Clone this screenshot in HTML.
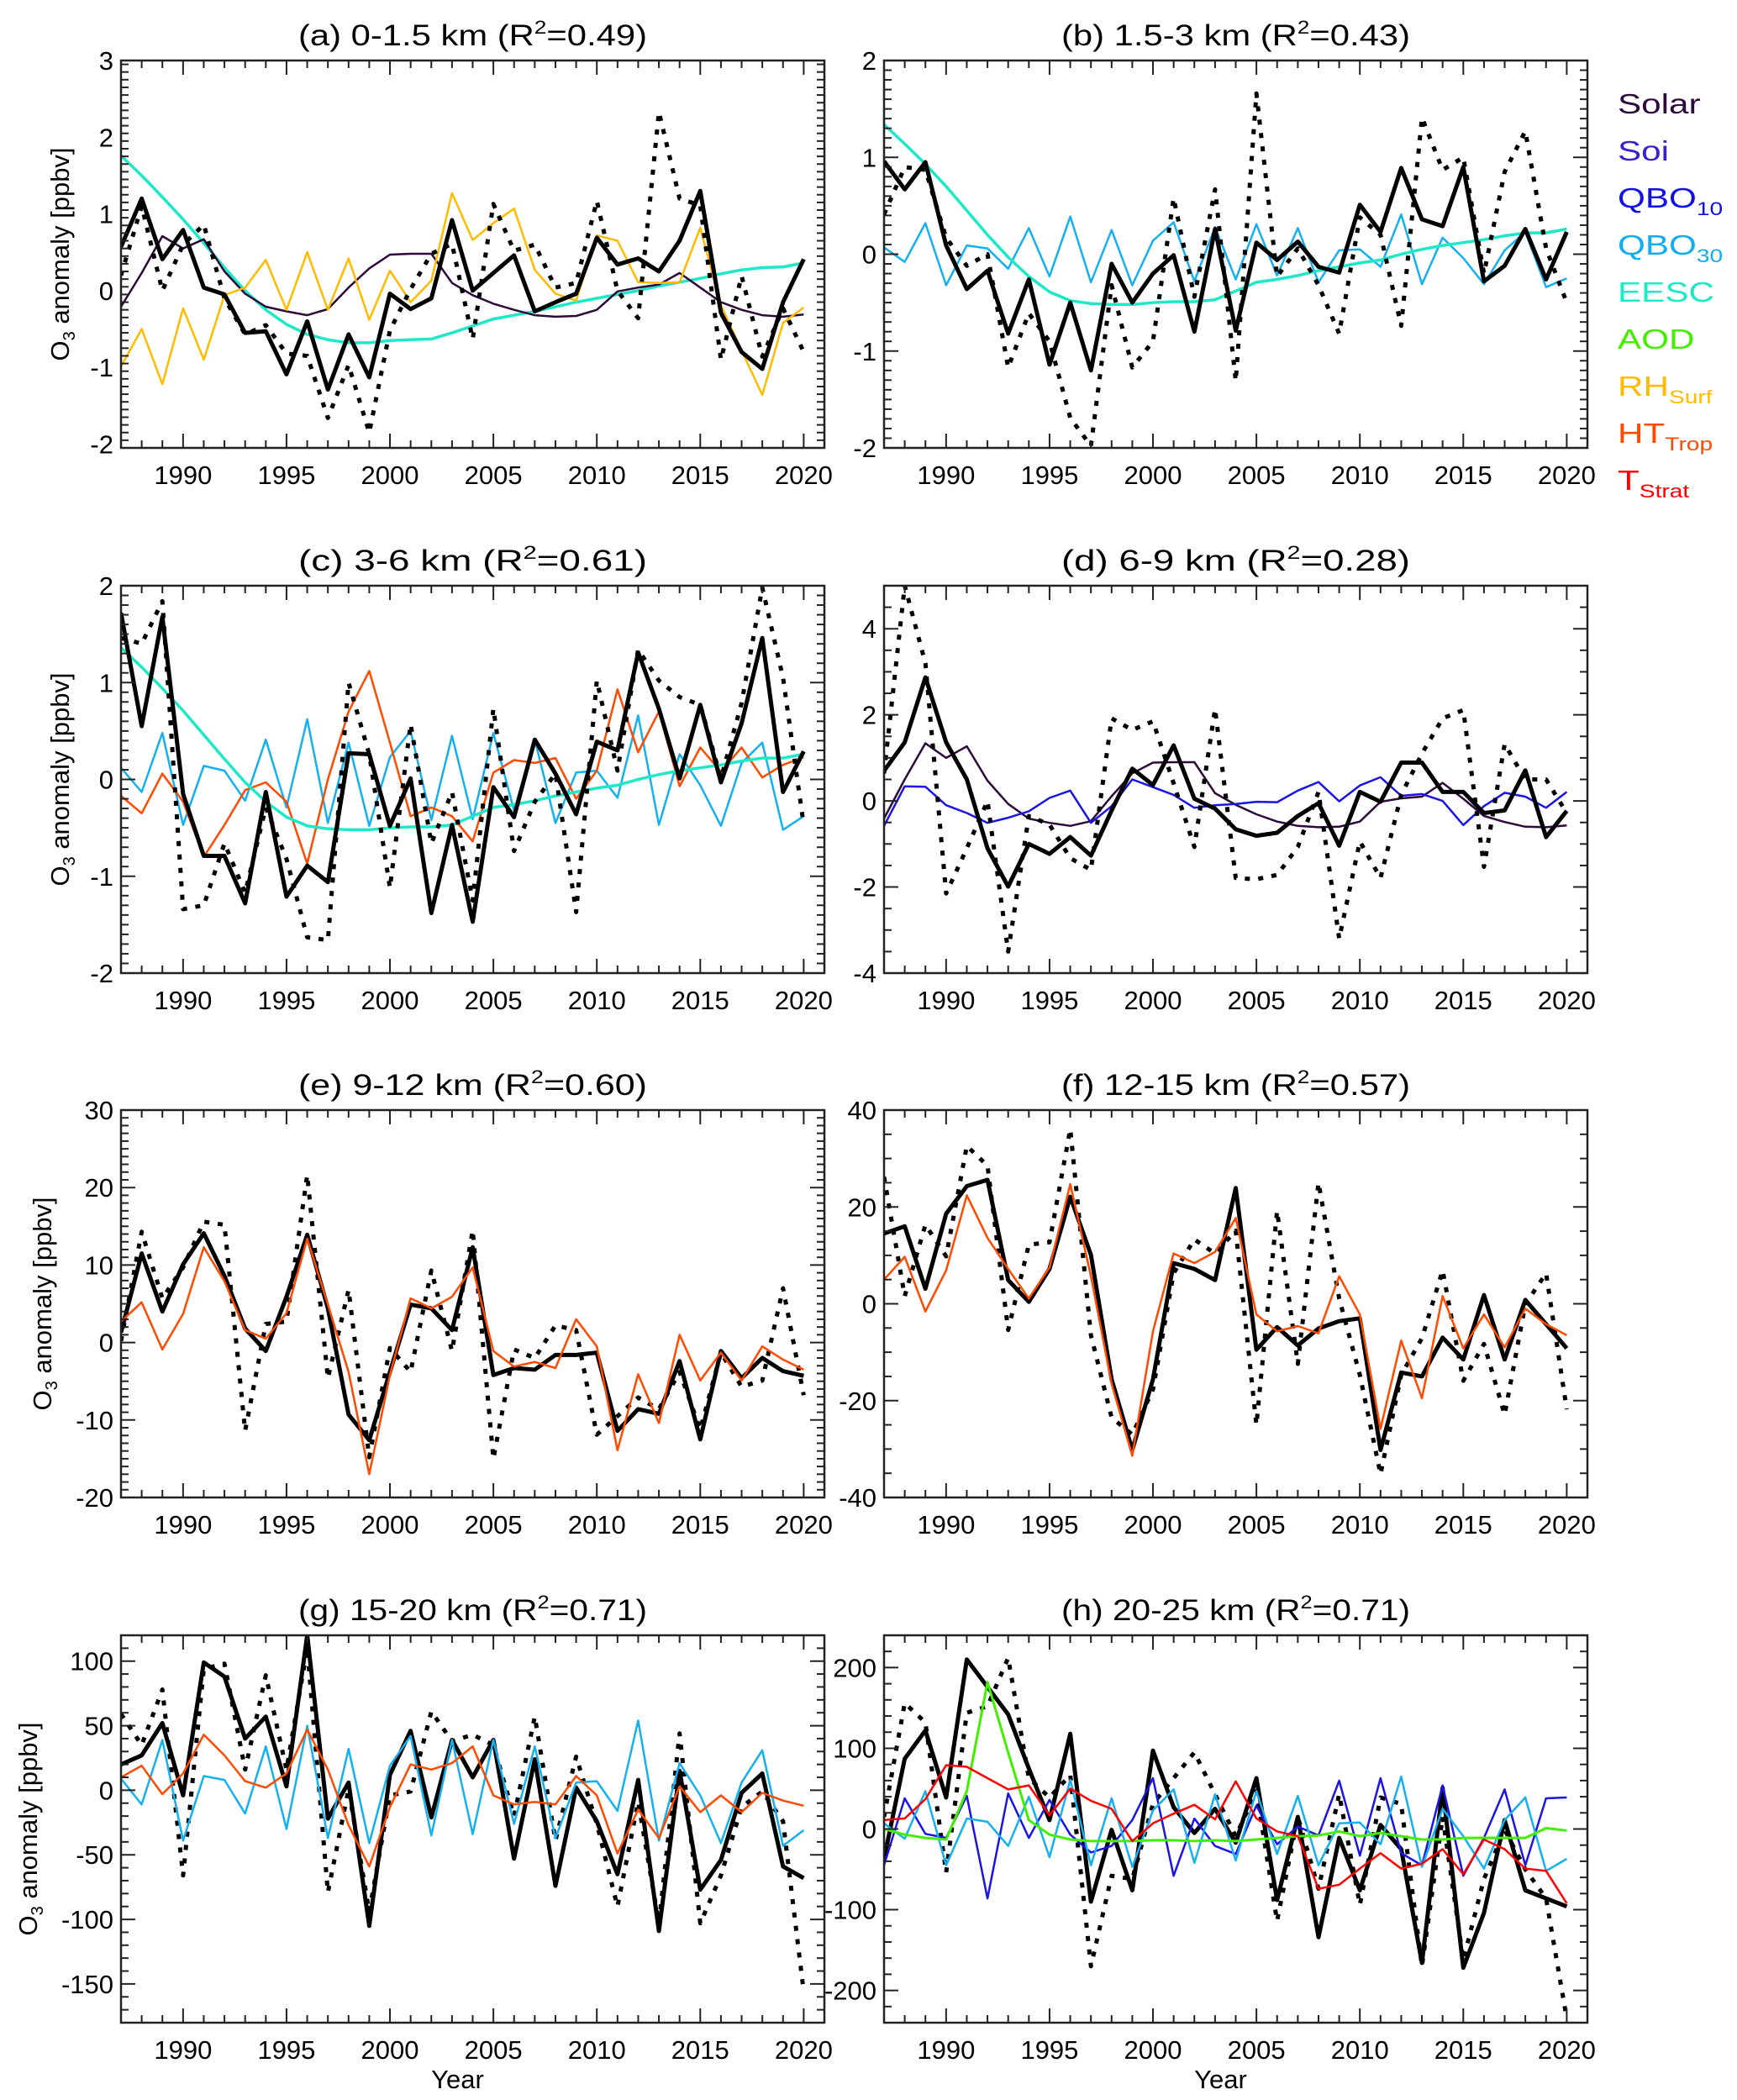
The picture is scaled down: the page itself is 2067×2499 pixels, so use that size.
<!DOCTYPE html>
<html><head><meta charset="utf-8">
<style>
html,body{margin:0;padding:0;background:#fff;}
svg{display:block;font-family:"Liberation Sans",Arial,sans-serif;}
</style></head>
<body>
<svg id="fig" width="2067" height="2499" viewBox="0 0 2067 2499" xmlns="http://www.w3.org/2000/svg">
<rect width="2067" height="2499" fill="#fff"/>
<g id="legend" transform="translate(1925,0) scale(1.28,1)" font-size="33">
  <text x="0" y="135" fill="#2e0a3c">Solar</text>
  <text x="0" y="191" fill="#3a1fd0">Soi</text>
  <text x="0" y="247" fill="#1010e6">QBO<tspan font-size="22" dy="9">10</tspan></text>
  <text x="0" y="303" fill="#10aef0">QBO<tspan font-size="22" dy="9">30</tspan></text>
  <text x="0" y="359" fill="#1de8c8">EESC</text>
  <text x="0" y="415" fill="#44ee00">AOD</text>
  <text x="0" y="471" fill="#ffbb00">RH<tspan font-size="22" dy="9">Surf</tspan></text>
  <text x="0" y="527" fill="#ff4a00">HT<tspan font-size="22" dy="9">Trop</tspan></text>
  <text x="0" y="583" fill="#ff0000">T<tspan font-size="22" dy="9">Strat</tspan></text>
</g>
</svg>
<script>
// ---------- data ----------
const years = [1987,1988,1989,1990,1991,1992,1993,1994,1995,1996,1997,1998,1999,2000,2001,2002,2003,2004,2005,2006,2007,2008,2009,2010,2011,2012,2013,2014,2015,2016,2017,2018,2019,2020];
const xTickLabels = [1990,1995,2000,2005,2010,2015,2020];

// (a) 0-1.5 km
const aModel = [0.57,1.2,0.41,0.79,0.04,-0.05,-0.55,-0.53,-1.09,-0.4,-1.29,-0.57,-1.13,-0.04,-0.24,-0.1,0.92,0,0.23,0.46,-0.27,-0.15,-0.04,0.69,0.34,0.42,0.25,0.65,1.3,-0.29,-0.8,-1.02,-0.15,0.41];
const aObs = [0.2,1.1,0,0.6,0.86,-0.1,-0.57,-0.45,-0.82,-0.85,-1.66,-0.97,-1.85,-0.52,0.02,0.48,0.61,-0.63,1.13,0.52,0.6,0.04,0.1,1.17,0,-0.36,2.33,1.2,1.11,-0.9,0.19,-0.86,-0.23,-0.8];
const aRH = [-0.99,-0.5,-1.22,-0.23,-0.9,-0.06,0.04,0.4,-0.25,0.5,-0.25,0.42,-0.38,0.26,-0.15,0.13,1.27,0.66,0.88,1.07,0.27,-0.04,-0.13,0.72,0.65,0.11,0.1,0.11,0.82,-0.19,-0.78,-1.36,-0.42,-0.22];
const aSolar = [-0.21,0.23,0.71,0.55,0.67,0.25,-0.04,-0.21,-0.27,-0.32,-0.24,0.04,0.29,0.47,0.48,0.48,0.1,-0.06,-0.17,-0.25,-0.32,-0.34,-0.33,-0.25,-0.01,0.04,0.08,0.23,0.04,-0.15,-0.25,-0.32,-0.34,-0.31];
const aEESC = [1.76,1.5,1.22,0.93,0.62,0.3,0,-0.25,-0.44,-0.57,-0.64,-0.68,-0.68,-0.65,-0.64,-0.63,-0.55,-0.46,-0.37,-0.32,-0.27,-0.21,-0.15,-0.1,-0.05,0,0.06,0.11,0.16,0.22,0.27,0.3,0.31,0.36];

// (b) 1.5-3 km
const bModel = [0.96,0.67,0.95,0.09,-0.36,-0.17,-0.82,-0.26,-1.14,-0.5,-1.2,-0.1,-0.5,-0.2,-0.01,-0.8,0.26,-0.79,0.12,-0.06,0.13,-0.13,-0.19,0.51,0.23,0.89,0.36,0.29,0.9,-0.28,-0.12,0.26,-0.26,0.23];
const bObs = [0.41,0.9,0.87,0.17,-0.12,0,-1.17,-0.61,-0.9,-1.69,-1.98,-0.32,-1.17,-0.9,0.58,-0.44,0.67,-1.31,1.66,-0.23,0.06,-0.32,-0.82,0.38,0.2,-0.74,1.41,0.87,1.0,-0.2,0.85,1.27,0.06,-0.5];
const bQBO30 = [0.07,-0.08,0.32,-0.32,0.09,0.06,-0.15,0.27,-0.23,0.39,-0.29,0.25,-0.32,0.14,0.33,-0.28,0.28,-0.26,0.31,-0.22,0.27,-0.29,0.04,0.05,-0.13,0.41,-0.31,0.17,-0.04,-0.31,0.04,0.23,-0.34,-0.25];
const bEESC = [1.34,1.14,0.93,0.7,0.45,0.2,-0.03,-0.23,-0.39,-0.48,-0.51,-0.52,-0.52,-0.5,-0.49,-0.49,-0.47,-0.38,-0.29,-0.26,-0.22,-0.17,-0.13,-0.09,-0.06,0,0.05,0.09,0.12,0.15,0.19,0.22,0.22,0.26];

// (c) 3-6 km
const cModel = [1.72,0.55,1.68,-0.15,-0.79,-0.79,-1.28,-0.13,-1.21,-0.89,-1.06,0.27,0.26,-0.48,0.01,-1.38,-0.47,-1.47,-0.08,-0.39,0.41,0.06,-0.36,0.39,0.3,1.31,0.73,0.01,0.77,-0.03,0.58,1.46,-0.13,0.29];
const cObs = [1.46,1.4,1.84,-1.34,-1.3,-0.66,-1.17,-0.29,-0.82,-1.63,-1.66,1.0,0.26,-1.12,0.57,-0.66,-0.13,-1.25,0.73,-0.74,-0.23,0.06,-1.37,1.02,0.09,1.34,1.02,0.85,0.77,0.01,0.79,1.98,1.05,-0.47];
const cHT = [-0.17,-0.35,0.06,-0.23,-0.8,-0.47,-0.11,-0.03,-0.23,-0.87,0,0.7,1.12,0.38,-0.38,-0.29,-0.38,-0.64,0.07,0.2,0.17,0.22,-0.2,0.09,0.93,0.28,0.7,-0.07,0.33,0.08,0.33,0.02,0.15,0.23];
const cQBO30 = [0.12,-0.13,0.48,-0.47,0.14,0.09,-0.22,0.41,-0.29,0.62,-0.45,0.38,-0.48,0.23,0.5,-0.42,0.45,-0.41,0.48,-0.32,0.41,-0.45,0.07,0.09,-0.19,0.66,-0.47,0.26,-0.06,-0.48,0.17,0.38,-0.52,-0.38];
const cEESC = [1.36,1.16,0.94,0.71,0.46,0.21,-0.03,-0.23,-0.39,-0.48,-0.51,-0.52,-0.52,-0.5,-0.49,-0.49,-0.47,-0.38,-0.29,-0.26,-0.22,-0.17,-0.13,-0.09,-0.06,0,0.05,0.09,0.12,0.15,0.19,0.22,0.22,0.26];

// (d) 6-9 km
const dModel = [0.7,1.36,2.87,1.36,0.5,-1.1,-1.99,-1.0,-1.23,-0.84,-1.27,-0.22,0.75,0.37,1.29,0.05,-0.18,-0.66,-0.81,-0.74,-0.35,-0.05,-1.04,0.21,-0.02,0.89,0.89,0.21,0.21,-0.28,-0.22,0.71,-0.84,-0.23];
const dObs = [0.64,5.0,3.2,-2.15,-1.1,0,-3.5,-0.35,-0.55,-1.33,-1.6,1.92,1.65,1.85,0.41,-1.07,2.14,-1.79,-1.82,-1.72,-1.07,0.21,-3.2,-0.94,-1.79,0.14,1.1,1.92,2.11,-1.53,1.32,0.5,0.5,-0.28];
const dSolar = [-0.41,0.5,1.34,1.0,1.27,0.47,-0.07,-0.41,-0.51,-0.58,-0.47,0.11,0.64,0.89,0.9,0.9,0.18,-0.09,-0.31,-0.48,-0.58,-0.61,-0.6,-0.48,-0.02,0.06,0.1,0.42,0.05,-0.35,-0.49,-0.6,-0.61,-0.57];
const dQBO10 = [-0.58,0.34,0.33,-0.1,-0.28,-0.51,-0.39,-0.24,0.07,0.24,-0.51,-0.12,0.5,0.32,0.14,-0.16,-0.1,-0.07,-0.02,-0.03,0.24,0.44,-0.01,0.36,0.55,0.12,0.16,0,-0.56,-0.12,0.19,0.1,-0.16,0.21];

// (e) 9-12 km
const eModel = [1.3,11.5,4.0,10.1,14.1,8.6,1.8,-1.1,5.9,13.9,4.4,-9.3,-12.6,-3.8,4.9,4.4,1.6,12.3,-4.2,-3.3,-3.5,-1.6,-1.6,-1.3,-11.4,-8.6,-9.2,-2.4,-12.5,-1.1,-4.6,-2.0,-3.7,-4.3];
const eObs = [0.2,14.3,5.7,9.7,15.6,15.2,-11.4,2.4,2.7,21.6,-4.6,6.8,-14.8,-0.7,-3.8,9.3,-1.1,14.5,-15.0,-0.9,-2.0,2.2,1.6,-11.9,-9.5,-7.1,-8.6,-3.8,-11.2,-1.3,-5.7,-4.9,7.0,-6.8];
const eHT = [2.7,5.2,-0.9,3.7,12.3,7.9,1.6,0.5,3.8,13.4,4.9,-3.8,-17.0,-4.2,5.7,4.4,5.9,9.7,-1.1,-3.1,-2.5,-3.3,3.0,-0.5,-13.9,-4.1,-10.4,1.0,-4.9,-1.3,-4.9,-0.5,-2.2,-3.5];

// (f) 12-15 km
const fModel = [14.5,16.0,3.1,18.6,24.3,25.6,4.9,0.4,7.2,22.1,10.1,-15.6,-30.2,-15.6,8.4,7.2,4.9,23.9,-9.5,-4.8,-8.6,-5.1,-3.6,-3.0,-30.2,-14.2,-15.0,-7.0,-11.5,1.8,-11.5,0.8,-4.2,-9.2];
const fObs = [26.2,1.6,16.3,9.8,32.6,28.5,-5.4,12.2,12.7,36.1,-6.5,-23.5,-27.0,-17.7,6.3,13.3,10.4,15.1,-25.0,19.2,-12.4,25.0,1.1,-14.7,-35.2,-14.7,-7.1,6.9,-15.9,-8.3,-22.9,-0.1,6.3,-21.8];
const fHT = [5.0,9.7,-1.6,6.9,22.4,13.6,7.2,1.1,7.5,24.7,5.7,-16.5,-31.4,-5.7,10.4,8.4,10.7,17.7,-2.2,-5.7,-4.6,-6.1,5.7,-2.2,-25.8,-7.6,-19.5,1.6,-9.2,-2.2,-9.0,-1.0,-4.2,-6.5];

// (g) 15-20 km
const gModel = [20,27,52,-4,99,88,40,57,3,120,-22,6,-105,12,46,-21,39,10,39,-53,24,-74,2,-24,-65,8,-109,15,-77,-54,-2,13,-59,-68];
const gObs = [59,35,78,-66,94,98,16,89,16,110,-79,1,-94,-4,-1,61,38,43,35,-20,57,-39,26,-26,-90,-9,-103,44,-103,-66,-13,-1,-24,-156];
const gHT = [10,19,-3,13,43,27,7,2,13,47,16,-27,-59,-13,20,16,21,34,-4,-11,-9,-11,11,-4,-49,-15,-37,3,-17,-4,-17,-2,-8,-12];
const gQBO30 = [9,-11,39,-39,11,8,-18,34,-30,50,-37,32,-41,19,42,-35,39,-34,39,-26,34,-37,6,7,-16,54,-39,21,-4,-41,6,31,-43,-31];

// (h) 20-25 km
const hModel = [-37,87,122,39,210,176,142,75,11,118,-90,-1,-76,97,27,-5,25,-17,63,-88,15,-134,-11,-76,5,-25,-166,51,-172,-104,11,-76,-86,-96];
const hObs = [15,156,132,-54,144,152,212,63,39,67,-170,-58,-62,31,63,95,43,-9,47,-114,15,-74,43,-94,39,31,-170,15,-162,-62,-1,-50,-86,-235];
const hTStrat = [11,13,37,79,77,63,49,54,17,50,35,25,-15,7,19,30,12,59,13,-3,-9,-74,-69,-49,-30,-49,-43,-25,-56,-13,-25,-49,-52,-92];
const hAOD = [0,-7,-11,-13,47,182,95,11,-7,-13,-15,-15,-15,-14,-14,-15,-14,-15,-13,-11,-9,-8,-3,-9,-5,-9,-13,-13,-11,-11,-11,-11,1,-2];
const hQBO10 = [-45,38,-6,-11,41,-86,44,-11,36,-7,-29,-21,11,63,-58,13,-21,-31,29,-19,3,-8,60,-33,63,-30,-45,54,-58,-11,49,-45,38,39];
const hQBO30 = [7,-12,47,-45,13,9,-21,40,-35,61,-45,38,-47,23,49,-42,43,-39,47,-31,41,-45,7,8,-19,65,-47,25,-9,-49,11,39,-52,-37];

// y tick labels per panel
const aTicks = [-2,-1,0,1,2,3];
const bTicks = [-2,-1,0,1,2];
const cTicks = [-2,-1,0,1,2];
const dTicks = [-4,-2,0,2,4];
const eTicks = [-20,-10,0,10,20,30];
const fTicks = [-40,-20,0,20,40];
const gTicks = [-150,-100,-50,0,50,100];
const hTicks = [-200,-100,0,100,200];

// ---------- drawing ----------
const C = {solar:'#2e0a3c', qbo10:'#1a14e6', qbo30:'#14b0f0', eesc:'#1de8c8', aod:'#44ee00', rh:'#ffbb00', ht:'#ff4a00', ts:'#ff0000'};
const NS = 'http://www.w3.org/2000/svg';
const svg = document.getElementById('fig');
function el(tag, attrs, parent){
  const e = document.createElementNS(NS, tag);
  for (const k in attrs) e.setAttribute(k, attrs[k]);
  (parent||svg).appendChild(e);
  return e;
}
const colX = [144, 1052];
const W = 837, H = 461;
const rowY = [72, 697, 1321, 1946];
const ylabX = [71, 71, 50, 33];

const panels = [
  {id:'a', title:'(a) 0-1.5 km (R', r2:'=0.49)', col:0,row:0, ymin:-2.05, ymax:3, ticks:aTicks, minor:0.1,
   series:[['eesc',aEESC,C.eesc,3.5,0],['solar',aSolar,C.solar,2.5,0],['rh-surf',aRH,C.rh,2.5,0],['observed',aObs,'#000',5,1],['model',aModel,'#000',5,0]]},
  {id:'b', title:'(b) 1.5-3 km (R', r2:'=0.43)', col:1,row:0, ymin:-2, ymax:2, ticks:bTicks, minor:0.1,
   series:[['qbo30',bQBO30,C.qbo30,2.5,0],['eesc',bEESC,C.eesc,3.5,0],['observed',bObs,'#000',5,1],['model',bModel,'#000',5,0]]},
  {id:'c', title:'(c) 3-6 km (R', r2:'=0.61)', col:0,row:1, ymin:-2, ymax:2, ticks:cTicks, minor:0.1,
   series:[['qbo30',cQBO30,C.qbo30,2.5,0],['ht-trop',cHT,C.ht,2.5,0],['eesc',cEESC,C.eesc,3.5,0],['observed',cObs,'#000',5,1],['model',cModel,'#000',5,0]]},
  {id:'d', title:'(d) 6-9 km (R', r2:'=0.28)', col:1,row:1, ymin:-4, ymax:5, ticks:dTicks, minor:0.5,
   series:[['solar',dSolar,C.solar,2.5,0],['qbo10',dQBO10,C.qbo10,2.5,0],['observed',dObs,'#000',5,1],['model',dModel,'#000',5,0]]},
  {id:'e', title:'(e) 9-12 km (R', r2:'=0.60)', col:0,row:2, ymin:-20, ymax:30, ticks:eTicks, minor:1,
   series:[['observed',eObs,'#000',5,1],['model',eModel,'#000',5,0],['ht-trop',eHT,C.ht,2.5,0]]},
  {id:'f', title:'(f) 12-15 km (R', r2:'=0.57)', col:1,row:2, ymin:-40, ymax:40, ticks:fTicks, minor:5,
   series:[['observed',fObs,'#000',5,1],['model',fModel,'#000',5,0],['ht-trop',fHT,C.ht,2.5,0]]},
  {id:'g', title:'(g) 15-20 km (R', r2:'=0.71)', col:0,row:3, ymin:-180, ymax:120, ticks:gTicks, minor:10,
   series:[['observed',gObs,'#000',5,1],['model',gModel,'#000',5,0],['qbo30',gQBO30,C.qbo30,2.5,0],['ht-trop',gHT,C.ht,2.5,0]]},
  {id:'h', title:'(h) 20-25 km (R', r2:'=0.71)', col:1,row:3, ymin:-240, ymax:240, ticks:hTicks, minor:20,
   series:[['observed',hObs,'#000',5,1],['model',hModel,'#000',5,0],['qbo10',hQBO10,C.qbo10,2.5,0],['qbo30',hQBO30,C.qbo30,2.5,0],['aod',hAOD,C.aod,3,0],['t-strat',hTStrat,C.ts,2.5,0]]},
];

panels.forEach(p => {
  const x0 = colX[p.col], y0 = rowY[p.row];
  const xs = yr => x0 + (yr - 1987) / (2021 - 1987) * W;
  const ys = v => y0 + (p.ymax - v) / (p.ymax - p.ymin) * H;
  const g = el('g', {});
  
  

  // title
  const t = el('text', {x: x0 + W/2, y: y0 - 18, 'text-anchor':'middle', 'font-size':35, textLength:415, lengthAdjust:'spacingAndGlyphs'}, g);
  
  
  t.appendChild(document.createTextNode(p.title));
  const sup = el('tspan', {'font-size':22, dy:-14}, t);
  sup.textContent = '2';
  const rest = el('tspan', {dy:14}, t);
  rest.textContent = p.r2;

  // clip
  const cp = el('clipPath', {id:'clip-' + p.id}, g);
  el('rect', {x:x0, y:y0, width:W, height:H}, cp);

  // series
  const sg = el('g', {'clip-path':'url(#clip-' + p.id + ')'}, g);
  p.series.forEach(s => {
    const pts = years.map((yr, i) => xs(yr).toFixed(1) + ',' + ys(s[1][i]).toFixed(1)).join(' ');
    const pl = el('polyline', {points: pts, fill:'none', stroke:s[2], 'stroke-width':s[3], 'stroke-linejoin':'round'}, sg);
    if (s[4]) { pl.setAttribute('stroke-dasharray', '6 10'); pl.setAttribute('stroke-width', 5); }
    
    
  });

  // axes frame
  const fr = el('rect', {x:x0, y:y0, width:W, height:H, fill:'none', stroke:'#222', 'stroke-width':2.5}, g);
  
  

  // x ticks
  for (let yr = 1987; yr <= 2021; yr++) {
    const x = xs(yr);
    const len = (yr % 5 === 0) ? 17 : 9;
    el('line', {x1:x, y1:y0+H, x2:x, y2:y0+H-len, stroke:'#222', 'stroke-width':2}, g);
    el('line', {x1:x, y1:y0, x2:x, y2:y0+len, stroke:'#222', 'stroke-width':2}, g);
  }
  xTickLabels.forEach(yr => {
    const tl = el('text', {x: xs(yr), y: y0 + H + 43, 'text-anchor':'middle', 'font-size':31}, g);
    
    
    tl.textContent = yr;
  });

  // y ticks
  const nMin = Math.round((p.ymax - p.ymin) / p.minor);
  for (let k = 0; k <= nMin; k++) {
    const v = p.ymin + k * p.minor;
    const isMajor = p.ticks.some(tv => Math.abs(tv - v) < p.minor * 0.01);
    const y = ys(v);
    const len = isMajor ? 17 : 9;
    el('line', {x1:x0, y1:y, x2:x0+len, y2:y, stroke:'#222', 'stroke-width':2}, g);
    el('line', {x1:x0+W, y1:y, x2:x0+W-len, y2:y, stroke:'#222', 'stroke-width':2}, g);
  }
  p.ticks.forEach(v => {
    const tl = el('text', {x: x0 - 9, y: ys(v) + 11, 'text-anchor':'end', 'font-size':31}, g);
    
    
    tl.textContent = v;
  });

  // y label (left column only)
  if (p.col === 0) {
    const cx = ylabX[p.row], cy = y0 + H/2;
    const yl = el('text', {x:cx, y:cy, 'text-anchor':'middle', 'font-size':31, transform:'rotate(-90 ' + cx + ' ' + cy + ') translate(0 11)'}, g);
    
    
    yl.appendChild(document.createTextNode('O'));
    const sb = el('tspan', {'font-size':20, dy:7}, yl); sb.textContent = '3';
    const rr = el('tspan', {dy:-7}, yl); rr.textContent = ' anomaly [ppbv]';
  }
  // x label bottom row
  if (p.row === 3) {
    const xl = el('text', {x: x0 + W/2 - 18, y: 2485, 'text-anchor':'middle', 'font-size':31}, g);
    
    
    xl.textContent = 'Year';
  }
});
</script>
</body></html>
